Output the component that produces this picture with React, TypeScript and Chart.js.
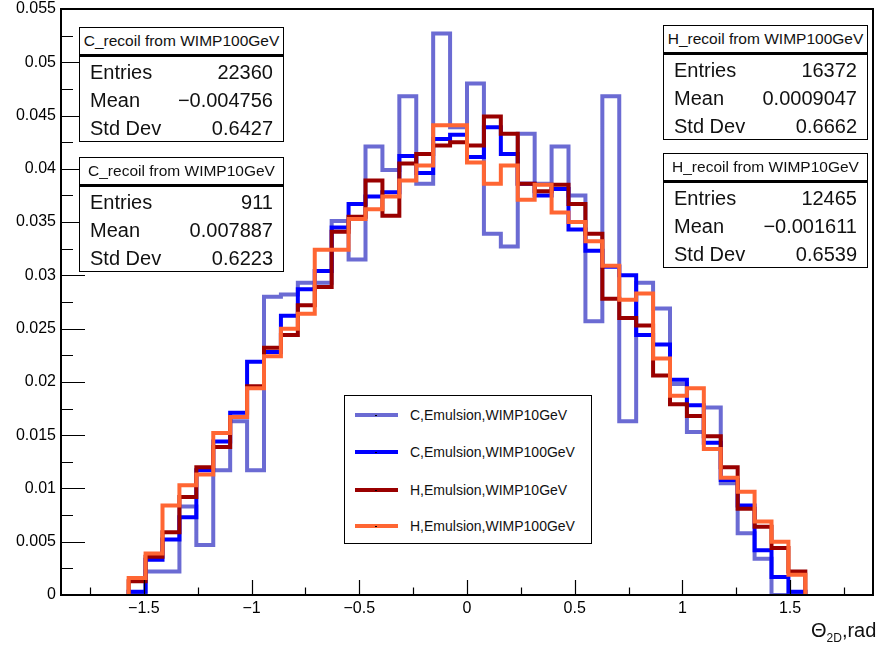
import React, { useEffect, useRef } from 'react';
import { Chart, registerables } from 'chart.js';

Chart.register(...registerables);

// ---- axis / binning ----
const X_MIN = -0.6 * Math.PI;
const X_MAX = 0.6 * Math.PI;
const HIST_MIN = -Math.PI / 2;
const HIST_MAX = Math.PI / 2;
const N_BINS = 40;
const Y_MIN = 0;
const Y_MAX = 0.055;

const X_TICKS = [-1.5, -1, -0.5, 0, 0.5, 1, 1.5];
const X_MINOR = [-1.75, -1.25, -0.75, -0.25, 0.25, 0.75, 1.25, 1.75];
const Y_TICKS = [0, 0.005, 0.01, 0.015, 0.02, 0.025, 0.03, 0.035, 0.04, 0.045, 0.05, 0.055];
const Y_MINOR = [0.0025, 0.0075, 0.0125, 0.0175, 0.0225, 0.0275, 0.0325, 0.0375, 0.0425, 0.0475, 0.0525];

// ---- histogram contents (40 bins from -pi/2 to pi/2) ----
const C_WIMP10 = [
  0, 0.0022, 0.0022, 0.0083, 0.0047, 0.0117, 0.0163, 0.0117, 0.028, 0.0282,
  0.0293, 0.0293, 0.0351, 0.0315, 0.0421, 0.0399, 0.0468, 0.0386, 0.0527, 0.0439,
  0.048, 0.0339, 0.0327, 0.0433, 0.0386, 0.0421, 0.0375, 0.0257, 0.0468, 0.0163,
  0.0293, 0.0269, 0.0198, 0.0153, 0.0176, 0.0105, 0.0058, 0.0034, 0, 0,
];
const C_WIMP100 = [
  0.0003, 0.0033, 0.0052, 0.0073, 0.0117, 0.0144, 0.0171, 0.0219, 0.0228, 0.0262,
  0.0287, 0.0304, 0.0345, 0.0367, 0.0374, 0.0378, 0.0412, 0.0396, 0.0428, 0.0432,
  0.0411, 0.0439, 0.0414, 0.0386, 0.0375, 0.0381, 0.0343, 0.0323, 0.0308, 0.03,
  0.0244, 0.0235, 0.0202, 0.0178, 0.0143, 0.0108, 0.0084, 0.0042, 0.0017, 0.0003,
];
const H_WIMP10 = [
  0.0013, 0.0036, 0.0059, 0.0092, 0.012, 0.0139, 0.0167, 0.0196, 0.0232, 0.0244,
  0.0272, 0.0289, 0.0341, 0.0355, 0.0389, 0.0356, 0.0405, 0.0414, 0.0422, 0.0425,
  0.0422, 0.0449, 0.0433, 0.0386, 0.0379, 0.0385, 0.0367, 0.0339, 0.0278, 0.026,
  0.0253, 0.0206, 0.0179, 0.0168, 0.0149, 0.012, 0.0081, 0.0064, 0.0044, 0.0022,
];
const H_WIMP100 = [
  0.0016, 0.0039, 0.0084, 0.0103, 0.0113, 0.0152, 0.0167, 0.0194, 0.0224, 0.025,
  0.0264, 0.0324, 0.0324, 0.0353, 0.0362, 0.0374, 0.0389, 0.0403, 0.0441, 0.0441,
  0.0406, 0.0386, 0.0403, 0.0371, 0.0385, 0.0359, 0.035, 0.0332, 0.0309, 0.0277,
  0.0283, 0.0222, 0.0187, 0.0194, 0.0137, 0.011, 0.0097, 0.0069, 0.005, 0.0019,
];

const SERIES_LABELS = [
  'C,Emulsion,WIMP10GeV',
  'C,Emulsion,WIMP100GeV',
  'H,Emulsion,WIMP10GeV',
  'H,Emulsion,WIMP100GeV',
];
const SERIES_COLORS = ['#6b6bd3', '#0000ff', '#990000', '#ff6633'];
const SERIES_VALUES = [C_WIMP10, C_WIMP100, H_WIMP10, H_WIMP100];

// ---- stat boxes ----
const STAT_TITLES = ['C_recoil from WIMP100GeV', 'C_recoil from WIMP10GeV', 'H_recoil from WIMP100GeV', 'H_recoil from WIMP10GeV'];
const STAT_ENTRIES = ['22360', '911', '16372', '12465'];
const STAT_MEANS = ['\u22120.004756', '0.007887', '0.0009047', '\u22120.001611'];
const STAT_STDS = ['0.6427', '0.6223', '0.6662', '0.6539'];
const STAT_POS = [
  [79, 27],
  [79, 157],
  [663, 25],
  [663, 153],
];

const FONT = '"Liberation Sans", Arial, Helvetica, sans-serif';

function histPoints(values: number[]) {
  const w = (HIST_MAX - HIST_MIN) / N_BINS;
  const pts: { x: number; y: number }[] = [{ x: HIST_MIN, y: 0 }];
  values.forEach((v, i) => pts.push({ x: HIST_MIN + i * w, y: v }));
  pts.push({ x: HIST_MAX, y: values[values.length - 1] });
  pts.push({ x: HIST_MAX, y: 0 });
  return pts;
}

const fmtX = (v: number) => (v < 0 ? '\u2212' + String(Math.abs(v)) : String(v));
const fmtY = (v: number) => String(Number(v.toFixed(4)));

const framePlugin = {
  id: 'rootFrame',
  afterDraw(chart: any) {
    const { ctx, chartArea: a, scales } = chart;
    const x = scales.x;
    const y = scales.y;
    ctx.save();
    ctx.strokeStyle = '#000';
    ctx.lineWidth = 1.2;
    ctx.beginPath();
    X_TICKS.forEach((v) => {
      const px = Math.round(x.getPixelForValue(v)) + 0.5;
      ctx.moveTo(px, a.bottom);
      ctx.lineTo(px, a.bottom - 15);
    });
    X_MINOR.forEach((v) => {
      const px = Math.round(x.getPixelForValue(v)) + 0.5;
      ctx.moveTo(px, a.bottom);
      ctx.lineTo(px, a.bottom - 7.5);
    });
    Y_TICKS.forEach((v) => {
      const py = Math.round(y.getPixelForValue(v)) + 0.5;
      ctx.moveTo(a.left, py);
      ctx.lineTo(a.left + 24, py);
    });
    Y_MINOR.forEach((v) => {
      const py = Math.round(y.getPixelForValue(v)) + 0.5;
      ctx.moveTo(a.left, py);
      ctx.lineTo(a.left + 12, py);
    });
    ctx.stroke();
    ctx.lineWidth = 2;
    ctx.strokeRect(a.left, a.top, a.right - a.left, a.bottom - a.top);
    ctx.restore();
  },
};

function StatBox({ x, y, title, entries, mean, std }: any) {
  const W = 205;
  const TH = 28;
  const BH = 87;
  const rows = [
    ['Entries', entries],
    ['Mean', mean],
    ['Std Dev', std],
  ];
  return (
    <>
      <div
        style={{
          position: 'absolute',
          left: x,
          top: y,
          width: W,
          height: TH,
          boxSizing: 'border-box',
          border: '1px solid #000',
          background: '#fff',
          display: 'flex',
          alignItems: 'center',
          justifyContent: 'center',
          fontSize: 15.5,
          whiteSpace: 'nowrap',
          color: '#111',
        }}
      >
        {title}
      </div>
      <div
        style={{
          position: 'absolute',
          left: x,
          top: y + TH,
          width: W,
          height: BH,
          boxSizing: 'border-box',
          border: '1px solid #000',
          borderTop: '2px solid #000',
          background: '#fff',
        }}
      >
        {rows.map((r, i) => (
          <div
            key={i}
            style={{
              position: 'absolute',
              left: 10,
              right: 10,
              top: 1 + 28 * i,
              height: 28,
              display: 'flex',
              alignItems: 'center',
              justifyContent: 'space-between',
              fontSize: 20,
              color: '#111',
              whiteSpace: 'nowrap',
            }}
          >
            <span>{r[0]}</span>
            <span>{r[1]}</span>
          </div>
        ))}
      </div>
    </>
  );
}

function Legend() {
  const rowsY = [19, 56, 94, 130];
  return (
    <div
      style={{
        position: 'absolute',
        left: 344,
        top: 395,
        width: 248,
        height: 149,
        boxSizing: 'border-box',
        border: '1px solid #000',
        background: '#fff',
      }}
    >
      {SERIES_LABELS.map((lab, i) => (
        <React.Fragment key={i}>
          <div
            style={{
              position: 'absolute',
              left: 10,
              top: rowsY[i] - 2,
              width: 43,
              height: 4,
              background: SERIES_COLORS[i],
            }}
          />
          <div
            style={{
              position: 'absolute',
              left: 30,
              top: rowsY[i] - 0.5,
              width: 1.5,
              height: 1.5,
              background: '#000',
            }}
          />
          <div
            style={{
              position: 'absolute',
              left: 65,
              top: rowsY[i] - 10,
              height: 20,
              lineHeight: '20px',
              fontSize: 14,
              color: '#111',
              whiteSpace: 'nowrap',
            }}
          >
            {lab}
          </div>
        </React.Fragment>
      ))}
    </div>
  );
}

export default function App() {
  const ref = useRef<HTMLCanvasElement | null>(null);

  useEffect(() => {
    if (!ref.current) return;
    const datasets = SERIES_VALUES.map((vals, i) => ({
      label: SERIES_LABELS[i],
      data: histPoints(vals),
      borderColor: SERIES_COLORS[i],
      backgroundColor: SERIES_COLORS[i],
      borderWidth: 4,
      stepped: 'before' as const,
      pointRadius: 0,
      fill: false,
      borderJoinStyle: 'miter' as const,
      borderCapStyle: 'butt' as const,
      order: 4 - i,
    }));
    const chart = new Chart(ref.current, {
      type: 'line',
      data: { datasets },
      plugins: [framePlugin],
      options: {
        animation: false,
        responsive: false,
        layout: { padding: { top: 9, right: 7, left: 0, bottom: 0 } },
        plugins: { legend: { display: false }, tooltip: { enabled: false }, title: { display: false } },
        scales: {
          x: {
            type: 'linear',
            min: X_MIN,
            max: X_MAX,
            grid: { display: false, drawTicks: false },
            border: { display: false },
            afterBuildTicks: (s: any) => {
              s.ticks = X_TICKS.map((v) => ({ value: v }));
            },
            afterFit: (s: any) => {
              s.height = 56;
              s.paddingLeft = 0;
              s.paddingRight = 0;
            },
            ticks: {
              autoSkip: false,
              maxRotation: 0,
              padding: 4,
              color: '#000',
              font: { family: FONT, size: 16 },
              callback: (v: any) => fmtX(Number(v)),
            },
          },
          y: {
            type: 'linear',
            min: Y_MIN,
            max: Y_MAX,
            grid: { display: false, drawTicks: false },
            border: { display: false },
            afterBuildTicks: (s: any) => {
              s.ticks = Y_TICKS.map((v) => ({ value: v }));
            },
            afterFit: (s: any) => {
              s.width = 61;
              s.paddingTop = 0;
              s.paddingBottom = 0;
            },
            ticks: {
              autoSkip: false,
              padding: 5,
              color: '#000',
              font: { family: FONT, size: 16 },
              callback: (v: any) => fmtY(Number(v)),
            },
          },
        },
      },
    });
    return () => chart.destroy();
  }, []);

  return (
    <div
      style={{
        position: 'fixed',
        left: 0,
        top: 0,
        width: 880,
        height: 651,
        background: '#fff',
        fontFamily: FONT,
        overflow: 'hidden',
      }}
    >
      <canvas ref={ref} width={880} height={651} style={{ display: 'block', width: 880, height: 651 }} />
      {STAT_TITLES.map((t, i) => (
        <StatBox
          key={i}
          x={STAT_POS[i][0]}
          y={STAT_POS[i][1]}
          title={t}
          entries={STAT_ENTRIES[i]}
          mean={STAT_MEANS[i]}
          std={STAT_STDS[i]}
        />
      ))}
      <Legend />
      <div
        style={{
          position: 'absolute',
          left: 811,
          top: 618,
          fontSize: 20,
          lineHeight: '24px',
          color: '#111',
          whiteSpace: 'nowrap',
        }}
      >
        {'\u0398'}
        <sub style={{ fontSize: 12, verticalAlign: '-5px' }}>2D</sub>
        ,rad
      </div>
    </div>
  );
}
